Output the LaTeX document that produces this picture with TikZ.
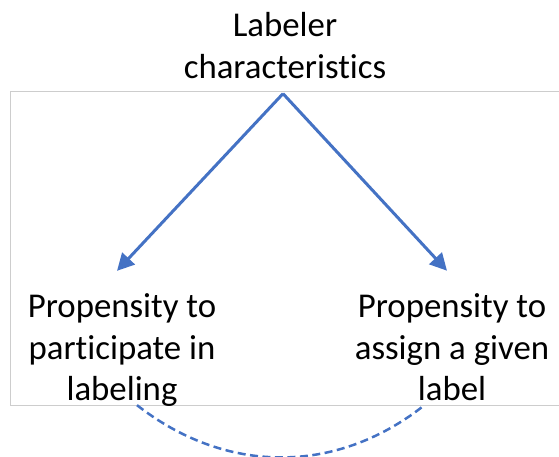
\documentclass[tikz,border=0pt]{standalone}
\usepackage{fontspec}
\setmainfont{Carlito}[Ligatures=NoCommon]
\usepackage{tikz}
\usetikzlibrary{arrows.meta}
\definecolor{MyBlue}{RGB}{68,114,196}
\definecolor{MyFrame}{RGB}{205,205,205}

\begin{document}
\begin{tikzpicture}[x=1pt, y=-1pt,
    txt/.style={inner sep=0pt, align=center, font=\fontsize{34.8}{41.5}\selectfont},
    arr/.style={-{Triangle[length=17pt,width=17pt]}, draw=MyBlue, line width=3pt},
    link/.style={draw=MyBlue, line width=2.5pt, dash pattern=on 8pt off 4.5pt}]
        \useasboundingbox (0,0) rectangle (559,457);
        \draw [draw=MyFrame, line width=1pt] (10,92) rectangle (570,405);
        \node [txt] (lab) at (285,45.5) {Labeler\\characteristics};
        \node [txt] (part) at (122,350.5) {Propensity to\\participate in\\labeling};
        \node [txt] (assign) at (452,347.5) {Propensity to\\assign a given\\label};
        \draw [arr] ([xshift=-2pt, yshift=-15pt]lab.south) -- ([shift={(-5pt,23pt)}]part.north);
        \draw [arr] ([xshift=-2pt, yshift=-15pt]lab.south) -- ([shift={(-5pt,23pt)}]assign.north);
        \draw [link] ([shift={(15pt,2pt)}]part.south) to[out=-38, in=-142] ([shift={(-29pt,-5pt)}]assign.south);
      \end{tikzpicture}
\end{document}
